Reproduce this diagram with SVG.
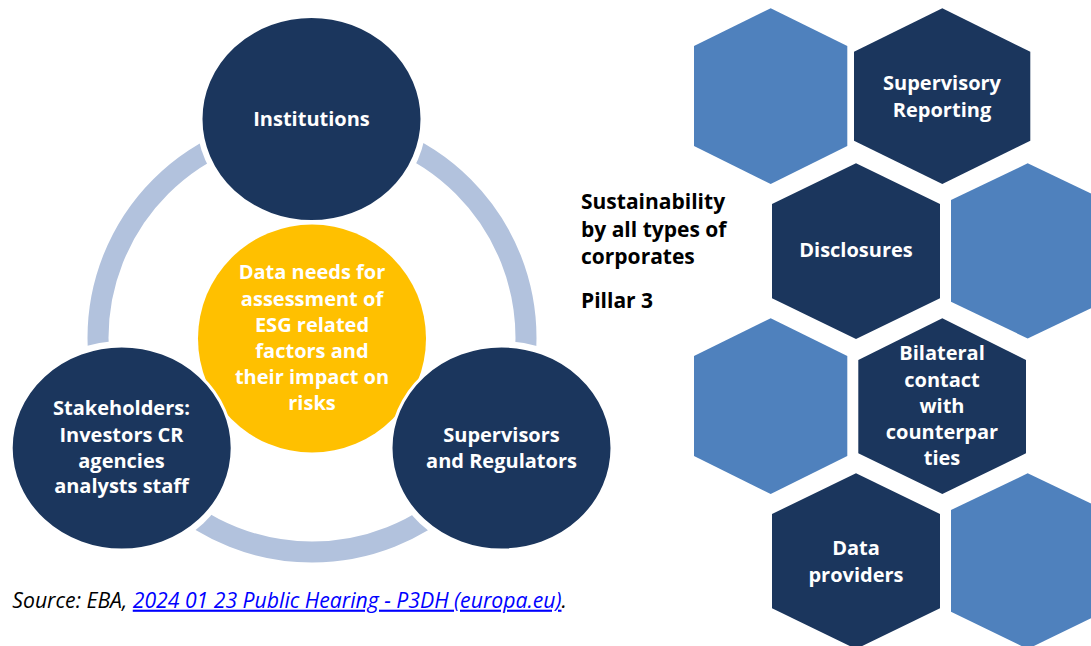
<svg xmlns="http://www.w3.org/2000/svg" width="1091" height="646" viewBox="0 0 1091 646">
<style>
.dark{fill:#1B365D}
.light{fill:#4F81BD}
.lbl{font-family:"Open Sans","DejaVu Sans",sans-serif;font-weight:bold;font-size:20px;fill:#FFFFFF;text-anchor:middle}
.blk{font-family:"Open Sans","DejaVu Sans",sans-serif;font-weight:bold;font-size:21px;fill:#000000}
.src{font-family:"Open Sans","DejaVu Sans",sans-serif;font-style:italic;font-size:21.2px;fill:#000000}
.ring{fill:none;stroke:#B2C2DD;stroke-width:21}
.mask{fill:#FFFFFF}
.circ{fill:#1B365D;stroke:#FFFFFF;stroke-width:3}
</style>
<rect width="1091" height="646" fill="#FFFFFF"/>
<g id="connectors">
<circle class="ring" cx="312" cy="338" r="214"/>
<ellipse class="mask" cx="311.5" cy="119" rx="115" ry="107"/>
<ellipse class="mask" cx="121.7" cy="448" rx="115" ry="107"/>
<ellipse class="mask" cx="501.5" cy="448" rx="115" ry="107"/>
</g>
<g id="center">
<circle cx="312" cy="338.5" r="114" fill="#FFC000"/>
</g>
<g id="institutions">
<ellipse class="circ" cx="311.5" cy="119" rx="110.5" ry="102.5"/>
<text class="lbl" x="311.5" y="126">Institutions</text>
</g>
<g id="stakeholders">
<ellipse class="circ" cx="121.7" cy="448" rx="110.5" ry="102"/>
<text class="lbl" x="121.5"><tspan x="121.5" y="415">Stakeholders:</tspan><tspan x="121.5" y="441.5">Investors CR</tspan><tspan x="121.5" y="467.5">agencies</tspan><tspan x="121.5" y="493">analysts staff</tspan></text>
</g>
<g id="supervisors">
<ellipse class="circ" cx="501.5" cy="448" rx="110.5" ry="102"/>
<text class="lbl"><tspan x="501.5" y="442">Supervisors</tspan><tspan x="501.5" y="467.7">and Regulators</tspan></text>
</g>
<g id="center-text">
<text class="lbl"><tspan x="312" y="279.3">Data needs for</tspan><tspan x="312" y="305.5">assessment of</tspan><tspan x="312" y="331.7">ESG related</tspan><tspan x="312" y="357.7">factors and</tspan><tspan x="312" y="384">their impact on</tspan><tspan x="312" y="410">risks</tspan></text>
</g>
<g id="sustainability">
<text class="blk"><tspan x="581" y="209">Sustainability</tspan><tspan x="581" y="236.7">by all types of</tspan><tspan x="581" y="264">corporates</tspan><tspan x="581" y="307.7">Pillar 3</tspan></text>
</g>
<g id="hex-a"><polygon class="light" points="770.7,8.3 847.3,46 847.3,146 770.7,184 694,146 694,46"/></g>
<g id="hex-supervisory-reporting">
<polygon class="dark" points="942.3,8.3 1030.3,51.7 1030.3,140.7 942.3,184 854,140.7 854,51.7"/>
<text class="lbl"><tspan x="942" y="90">Supervisory</tspan><tspan x="942" y="116.7">Reporting</tspan></text>
</g>
<g id="hex-disclosures">
<polygon class="dark" points="856,163.3 940,204 940,298.3 856,339 772,298.3 772,204"/>
<text class="lbl" x="856" y="257.3">Disclosures</text>
</g>
<g id="hex-d"><polygon class="light" points="1027.7,163.3 1104.4,200 1104.4,301.7 1027.7,338.5 951,301.7 951,200"/></g>
<g id="hex-e"><polygon class="light" points="770.7,318.3 847.3,356 847.3,456 770.7,494 694,456 694,356"/></g>
<g id="hex-bilateral">
<polygon class="dark" points="942.3,318.3 1026,360 1026,453.3 942.3,494 858.3,453.3 858.3,360"/>
<text class="lbl"><tspan x="942" y="360">Bilateral</tspan><tspan x="942" y="386.7">contact</tspan><tspan x="942" y="412.7">with</tspan><tspan x="942" y="439.3">counterpar</tspan><tspan x="942" y="465.3">ties</tspan></text>
</g>
<g id="hex-data-providers">
<polygon class="dark" points="856,473.3 940,514 940,608.3 856,649 772,608.3 772,514"/>
<text class="lbl"><tspan x="856" y="555">Data</tspan><tspan x="856" y="581.5">providers</tspan></text>
</g>
<g id="hex-h"><polygon class="light" points="1027.7,473.3 1104.4,510 1104.4,611.7 1027.7,649 951,611.7 951,510"/></g>
<g id="source">
<text class="src" x="12.3" y="607.7">Source: EBA, <tspan fill="#0000FF" text-decoration="underline">2024 01 23 Public Hearing - P3DH (europa.eu)</tspan>.</text>
</g>
</svg>
